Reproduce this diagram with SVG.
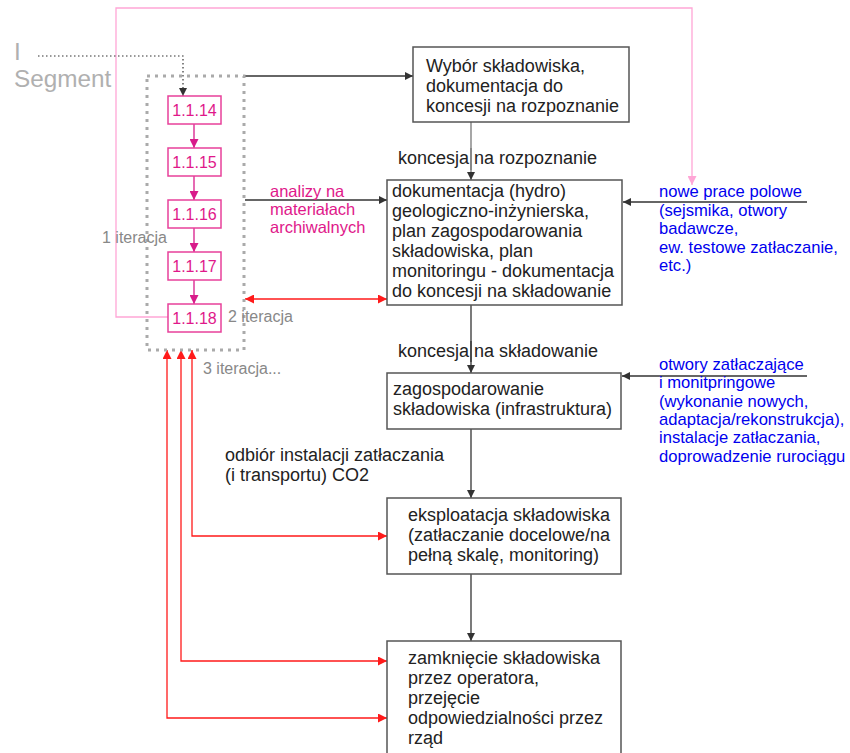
<svg xmlns="http://www.w3.org/2000/svg" width="850" height="753" viewBox="0 0 850 753">
  <style>
    text { font-family: "Liberation Sans", Arial, sans-serif; }
    .box { fill: #ffffff; stroke: #555555; stroke-width: 1.5; }
    .btxt { font-size: 18px; fill: #222222; }
    .seg { fill: #ffffff; stroke: #e8409a; stroke-width: 1.5; }
    .stxt { font-size: 16px; fill: #e0188a; text-anchor: middle; }
    .gray { font-size: 16px; fill: #888888; }
    .blue { font-size: 16.6px; fill: #0000ee; }
    .pinklbl { font-size: 16.5px; fill: #e0188a; }
    .ln { fill: none; stroke: #333333; stroke-width: 1.3; }
    .red { fill: none; stroke: #ff1a1a; stroke-width: 1.3; }
    .mag { fill: none; stroke: #d81b8a; stroke-width: 1.3; }
    .pink { fill: none; stroke: #ffa6d6; stroke-width: 1.3; }
  </style>
  <defs>
    <marker id="aBlack" viewBox="0 0 10 10" refX="10" refY="5" markerWidth="9" markerHeight="8" markerUnits="userSpaceOnUse" orient="auto-start-reverse">
      <path d="M0,0 L10,5 L0,10 z" fill="#333333"/>
    </marker>
    <marker id="aRed" viewBox="0 0 10 10" refX="10" refY="5" markerWidth="10" markerHeight="9" markerUnits="userSpaceOnUse" orient="auto-start-reverse">
      <path d="M0,0 L10,5 L0,10 z" fill="#ff1a1a"/>
    </marker>
    <marker id="aMag" viewBox="0 0 10 10" refX="10" refY="5" markerWidth="9" markerHeight="9" markerUnits="userSpaceOnUse" orient="auto">
      <path d="M0,0 L10,5 L0,10 z" fill="#d81b8a"/>
    </marker>
    <marker id="aPink" viewBox="0 0 10 10" refX="10" refY="5" markerWidth="9" markerHeight="9" markerUnits="userSpaceOnUse" orient="auto">
      <path d="M0,0 L10,5 L0,10 z" fill="#ffa6d6"/>
    </marker>
  </defs>

  <!-- segment title -->
  <g id="segment-title">
    <text x="14" y="60" font-size="24.3" fill="#b0b0b0">I</text>
    <text x="14" y="87" font-size="24.3" fill="#b0b0b0">Segment</text>
  </g>

  <!-- connectors -->
  <g id="connectors">
    <!-- feedback loop from 1.1.18 to field works -->
    <polyline class="pink" points="168,317 116,317 116,8 692,8 692,185" marker-end="url(#aPink)"/>
    <!-- dotted pointer from title -->
    <polyline points="38,56 183,56 183,96" fill="none" stroke="#333333" stroke-width="1.2" stroke-dasharray="1.5,2.5" marker-end="url(#aBlack)"/>
    <!-- segment chain -->
    <line class="mag" x1="194" y1="124" x2="194" y2="148" marker-end="url(#aMag)"/>
    <line class="mag" x1="194" y1="176" x2="194" y2="200" marker-end="url(#aMag)"/>
    <line class="mag" x1="194" y1="228" x2="194" y2="252" marker-end="url(#aMag)"/>
    <line class="mag" x1="194" y1="280" x2="194" y2="304" marker-end="url(#aMag)"/>
    <!-- from segment to main flow -->
    <line class="ln" x1="245" y1="76" x2="413" y2="76" marker-end="url(#aBlack)"/>
    <line class="ln" x1="245" y1="200" x2="387" y2="200" marker-end="url(#aBlack)"/>
    <line class="red" x1="245" y1="299" x2="387" y2="299" marker-start="url(#aRed)" marker-end="url(#aRed)"/>
    <!-- main vertical flow -->
    <line x1="471" y1="122" x2="471" y2="180" fill="none" stroke="#777777" stroke-width="1.3" marker-end="url(#aBlack)"/>
    <line class="ln" x1="471" y1="305" x2="471" y2="373" marker-end="url(#aBlack)"/>
    <line class="ln" x1="471" y1="429" x2="471" y2="498" marker-end="url(#aBlack)"/>
    <line class="ln" x1="471" y1="574" x2="471" y2="641" marker-end="url(#aBlack)"/>
    <!-- external inputs -->
    <line class="ln" x1="807" y1="202" x2="623" y2="202" marker-end="url(#aBlack)"/>
    <line class="ln" x1="807" y1="376" x2="622" y2="376" marker-end="url(#aBlack)"/>
    <!-- iteration returns, arrowed at both ends -->
    <polyline class="red" points="192,350 192,536 387,536" marker-start="url(#aRed)" marker-end="url(#aRed)"/>
    <polyline class="red" points="181,350 181,661 387,661" marker-start="url(#aRed)" marker-end="url(#aRed)"/>
    <polyline class="red" points="167,350 167,718 387,718" marker-start="url(#aRed)" marker-end="url(#aRed)"/>
  </g>

  <!-- segment frame -->
  <g id="segment-frame">
    <rect x="147" y="76" width="97" height="274" fill="none" stroke="#aaaaaa" stroke-width="3" stroke-dasharray="3,5"/>
  </g>

  <g id="n-1-1-14"><rect class="seg" x="168" y="96" width="53" height="28"/><text class="stxt" x="194.5" y="116">1.1.14</text></g>
  <g id="n-1-1-15"><rect class="seg" x="168" y="148" width="53" height="28"/><text class="stxt" x="194.5" y="168">1.1.15</text></g>
  <g id="n-1-1-16"><rect class="seg" x="168" y="200" width="53" height="28"/><text class="stxt" x="194.5" y="220">1.1.16</text></g>
  <g id="n-1-1-17"><rect class="seg" x="168" y="252" width="53" height="28"/><text class="stxt" x="194.5" y="272">1.1.17</text></g>
  <g id="n-1-1-18"><rect class="seg" x="168" y="304" width="53" height="28"/><text class="stxt" x="194.5" y="324">1.1.18</text></g>

  <!-- iteration labels -->
  <g id="iteration-labels">
    <text class="gray" x="102" y="243">1 iteracja</text>
    <text class="gray" x="228" y="322">2 iteracja</text>
    <text class="gray" x="203" y="374">3 iteracja...</text>
  </g>

  <g id="lbl-archive">
    <text class="pinklbl" x="270" y="197">analizy na</text>
    <text class="pinklbl" x="270" y="215">materiałach</text>
    <text class="pinklbl" x="270" y="233">archiwalnych</text>
  </g>

  <g id="n-wybor">
    <rect class="box" x="413" y="47" width="216" height="75"/>
    <text class="btxt" x="426" y="72">Wybór składowiska,</text>
    <text class="btxt" x="426" y="92">dokumentacja do</text>
    <text class="btxt" x="426" y="112">koncesji na rozpoznanie</text>
  </g>

  <g id="lbl-rozpoznanie">
    <text class="btxt" x="398" y="164">koncesja na rozpoznanie</text>
    <line x1="471" y1="148" x2="471" y2="170" stroke="#777777" stroke-width="1.3"/>
  </g>

  <g id="n-dokumentacja">
    <rect class="box" x="387" y="180" width="235" height="125"/>
    <text class="btxt" x="392" y="197">dokumentacja (hydro)</text>
    <text class="btxt" x="392" y="217">geologiczno-inżynierska,</text>
    <text class="btxt" x="392" y="237">plan zagospodarowania</text>
    <text class="btxt" x="392" y="257">składowiska, plan</text>
    <text class="btxt" x="392" y="277">monitoringu - dokumentacja</text>
    <text class="btxt" x="392" y="297">do koncesji na składowanie</text>
  </g>

  <g id="lbl-nowe-prace">
    <text class="blue" x="659" y="197">nowe prace polowe</text>
    <text class="blue" x="659" y="216">(sejsmika, otwory</text>
    <text class="blue" x="659" y="234">badawcze,</text>
    <text class="blue" x="659" y="253">ew. testowe zatłaczanie,</text>
    <text class="blue" x="659" y="271">etc.)</text>
  </g>

  <g id="lbl-skladowanie">
    <text class="btxt" x="398" y="357">koncesja na składowanie</text>
    <line x1="471" y1="341" x2="471" y2="362" stroke="#333333" stroke-width="1.3"/>
  </g>

  <g id="n-zagospodarowanie">
    <rect class="box" x="387" y="373" width="234" height="56"/>
    <text class="btxt" x="393" y="395">zagospodarowanie</text>
    <text class="btxt" x="393" y="415">składowiska (infrastruktura)</text>
  </g>

  <g id="lbl-otwory">
    <text class="blue" x="659" y="370">otwory zatłaczające</text>
    <text class="blue" x="659" y="388">i monitpringowe</text>
    <text class="blue" x="659" y="407">(wykonanie nowych,</text>
    <text class="blue" x="659" y="425">adaptacja/rekonstrukcja),</text>
    <text class="blue" x="659" y="443">instalacje zatłaczania,</text>
    <text class="blue" x="659" y="462">doprowadzenie rurociągu</text>
  </g>

  <g id="lbl-odbior">
    <text class="btxt" x="225" y="461">odbiór instalacji zatłaczania</text>
    <text class="btxt" x="225" y="481">(i transportu) CO2</text>
  </g>

  <g id="n-eksploatacja">
    <rect class="box" x="387" y="498" width="234" height="76"/>
    <text class="btxt" x="408" y="521">eksploatacja składowiska</text>
    <text class="btxt" x="408" y="541">(zatłaczanie docelowe/na</text>
    <text class="btxt" x="408" y="561">pełną skalę, monitoring)</text>
  </g>

  <g id="n-zamkniecie">
    <rect class="box" x="387" y="641" width="234" height="120"/>
    <text class="btxt" x="408" y="664">zamknięcie składowiska</text>
    <text class="btxt" x="408" y="684">przez operatora,</text>
    <text class="btxt" x="408" y="704">przejęcie</text>
    <text class="btxt" x="408" y="724">odpowiedzialności przez</text>
    <text class="btxt" x="408" y="744">rząd</text>
  </g>
</svg>
